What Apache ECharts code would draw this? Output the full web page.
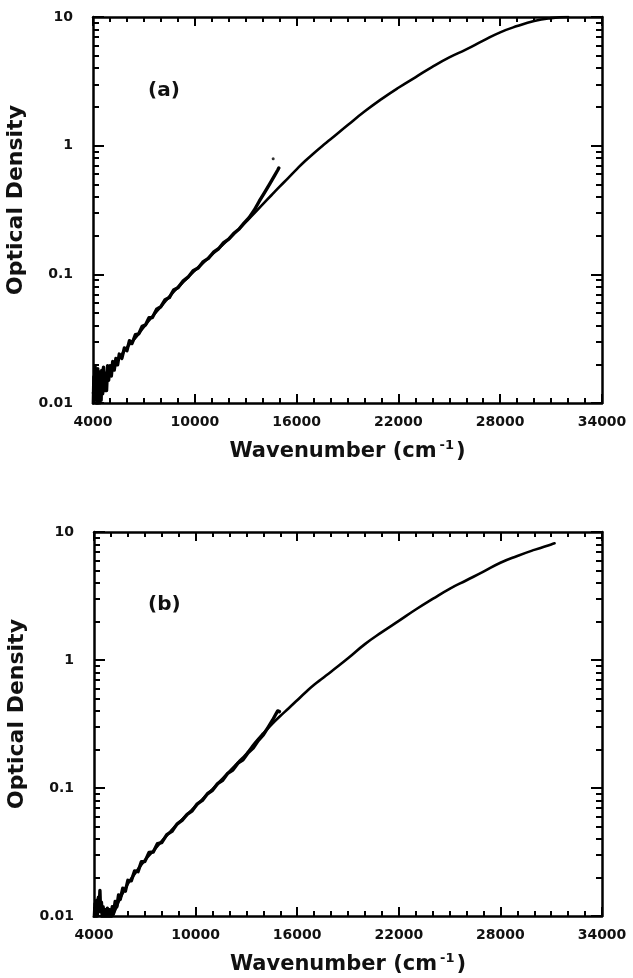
<!DOCTYPE html>
<html>
<head>
<meta charset="utf-8">
<script src="https://cdn.jsdelivr.net/npm/echarts@6/dist/echarts.min.js"></script>
<style>
html,body{margin:0;padding:0;background:#fff;}
#chart{width:633px;height:978px;}
</style>
</head>
<body>
<div id="chart"></div>
<script>
// ---------- data (wavenumber cm^-1, optical density) ----------
var panelLabels = ['(a)', '(b)'];
var xAxisName = 'Wavenumber (cm';
var yAxisName = 'Optical Density';
var xMajorTicks = [4000, 10000, 16000, 22000, 28000, 34000];
var xMinorTicks = [5000,6000,7000,8000,9000,11000,12000,13000,14000,15000,17000,18000,19000,20000,21000,23000,24000,25000,26000,27000,29000,30000,31000,32000,33000];
var yMajorTicks = [0.01, 0.1, 1, 10];
var yMinorTicks = [0.02,0.03,0.04,0.05,0.06,0.07,0.08,0.09,0.2,0.3,0.4,0.5,0.6,0.7,0.8,0.9,2,3,4,5,6,7,8,9];

// panel (a): smooth full-range curve
var aMain = [[4000,0.012],[4200,0.0135],[4500,0.0148],[4800,0.0168],[5000,0.0188],[5500,0.022],[6000,0.027],[6500,0.032],[7000,0.039],[7500,0.047],[8000,0.056],[8500,0.067],[9000,0.079],[9500,0.092],[10000,0.107],[10500,0.123],[11000,0.142],[11500,0.163],[12000,0.188],[12500,0.218],[13000,0.255],[13500,0.298],[14000,0.35],[14500,0.41],[15000,0.48],[15500,0.56],[16000,0.655],[16500,0.76],[17000,0.87],[17500,0.99],[18000,1.12],[19000,1.44],[20000,1.84],[21000,2.3],[22000,2.82],[23000,3.4],[24000,4.1],[25000,4.85],[26000,5.6],[27000,6.55],[28000,7.6],[29000,8.5],[30000,9.3],[31000,9.8],[32000,10.05]];
// panel (a): noisy near-IR curve
var aNir = [[4020,0.0100],[4050,0.0160],[4080,0.0105],[4120,0.0195],[4160,0.0110],[4200,0.0170],[4240,0.0098],[4280,0.0185],[4320,0.0115],[4360,0.0175],[4400,0.0100],[4440,0.0160],[4480,0.0105],[4520,0.0180],[4570,0.0118],[4620,0.0190],[4680,0.0125],[4740,0.0170],[4800,0.0125],[4860,0.0195],[4920,0.0150],[5000,0.0195],[5080,0.0162],[5160,0.0210],[5250,0.0180],[5350,0.0222],[5450,0.0198],[5550,0.0240],[5700,0.0222],[5850,0.0268],[6000,0.0255],[6150,0.0305],[6300,0.0290],[6500,0.0340],[6700,0.0345],[6900,0.0395],[7100,0.0405],[7300,0.0460],[7500,0.0462],[7750,0.0535],[8000,0.0560],[8250,0.0635],[8500,0.0660],[8750,0.0755],[9000,0.0785],[9300,0.0885],[9600,0.0950],[9900,0.1065],[10200,0.1120],[10500,0.1255],[10800,0.1330],[11100,0.1485],[11400,0.1580],[11700,0.1765],[12000,0.1880],[12300,0.2085],[12600,0.2240],[12900,0.2500],[13200,0.2760],[13500,0.3150],[13800,0.3700],[14100,0.4300],[14400,0.5000],[14700,0.5850],[14900,0.6500],[14950,0.6700]];
var aDot = [[14620, 0.79]];

// panel (b)
var bMain = [[5100,0.0100],[5300,0.0115],[5500,0.0133],[6000,0.0178],[6500,0.0222],[7000,0.0272],[7500,0.0322],[8000,0.0385],[8500,0.0455],[9000,0.0535],[9500,0.062],[10000,0.072],[10500,0.084],[11000,0.098],[11500,0.115],[12000,0.135],[12500,0.158],[13000,0.185],[13500,0.225],[14000,0.268],[14500,0.315],[15000,0.365],[15500,0.42],[16000,0.485],[16500,0.56],[17000,0.64],[17500,0.72],[18000,0.81],[19000,1.03],[20000,1.33],[21000,1.65],[22000,2.02],[23000,2.48],[24000,3.0],[25000,3.6],[26000,4.2],[27000,4.9],[28000,5.75],[29000,6.5],[30000,7.25],[31000,8.0],[31200,8.15]];
var bNir = [[4020,0.0098],[4060,0.0125],[4100,0.0097],[4150,0.0132],[4200,0.0100],[4260,0.0140],[4310,0.0120],[4350,0.0158],[4390,0.0108],[4440,0.0128],[4490,0.0096],[4540,0.0118],[4600,0.0095],[4660,0.0112],[4720,0.0096],[4790,0.0115],[4860,0.0097],[4930,0.0112],[5000,0.0098],[5080,0.0118],[5150,0.0104],[5250,0.0130],[5350,0.0118],[5450,0.0146],[5550,0.0135],[5700,0.0165],[5850,0.0156],[6000,0.0190],[6200,0.0188],[6400,0.0225],[6600,0.0222],[6800,0.0266],[7000,0.0266],[7250,0.0314],[7500,0.0316],[7750,0.0368],[8000,0.0374],[8300,0.0432],[8600,0.0458],[8900,0.0522],[9200,0.0558],[9500,0.0622],[9800,0.0663],[10100,0.0752],[10400,0.0800],[10700,0.0902],[11000,0.0960],[11300,0.1082],[11600,0.1150],[11900,0.1302],[12200,0.1380],[12500,0.1562],[12800,0.1660],[13100,0.1882],[13400,0.2050],[13700,0.2350],[14000,0.2600],[14300,0.3000],[14550,0.3400],[14750,0.3800],[14850,0.4000],[14950,0.3950]];

// ---------- layout ----------
var FONT = 'DejaVu Sans';
var grids = [
  {left: 93, top: 17, width: 509, height: 386},
  {left: 94, top: 532, width: 508, height: 384}
];
var xAxes = [], yAxes = [];
function tickAxisX(g, pos, custom, len, isMain) {
  return {
    type: 'value', gridIndex: g, position: pos, min: 4000, max: 34000,
    splitLine: {show: false},
    axisLine: {show: isMain, onZero: false, lineStyle: {color: '#000', width: 2.5}},
    axisTick: {show: true, inside: true, length: len, customValues: custom, lineStyle: {color: '#000', width: 2}},
    axisLabel: {show: false}
  };
}
function tickAxisY(g, pos, custom, len, isMain) {
  return {
    type: 'log', logBase: 10, gridIndex: g, position: pos, min: 0.01, max: 10,
    splitLine: {show: false}, minorTick: {show: false},
    axisLine: {show: isMain, onZero: false, lineStyle: {color: '#000', width: 2.5}},
    axisTick: {show: true, inside: true, length: len, customValues: custom, lineStyle: {color: '#000', width: 2}},
    axisLabel: {show: false}
  };
}
for (var g = 0; g < 2; g++) {
  var bx = tickAxisX(g, 'bottom', xMajorTicks, 9, true);
  bx.axisLabel = {show: true, customValues: xMajorTicks, margin: 12, fontFamily: FONT, fontWeight: 'bold', fontSize: 14, color: '#111',
    formatter: function (v) { return String(v); }};
  bx.name = xAxisName + '{sup|-1}{n|)}';
  bx.nameLocation = 'middle';
  bx.nameGap = 36;
  bx.nameTextStyle = {fontFamily: FONT, fontWeight: 'bold', fontSize: 21, color: '#111',
    rich: {sup: {fontFamily: FONT, fontWeight: 'bold', fontSize: 13, color: '#111', verticalAlign: 'top', padding: [0, 2, 12, 3]},
           n: {fontFamily: FONT, fontWeight: 'bold', fontSize: 21, color: '#111'}}};
  xAxes.push(bx);
  xAxes.push(tickAxisX(g, 'bottom', xMinorTicks, 5, false));
  xAxes.push(tickAxisX(g, 'top', xMajorTicks, 9, true));
  xAxes.push(tickAxisX(g, 'top', xMinorTicks, 5, false));

  var ly = tickAxisY(g, 'left', yMajorTicks, 11, true);
  ly.axisLabel = {show: true, customValues: yMajorTicks, margin: 20, fontFamily: FONT, fontWeight: 'bold', fontSize: 14, color: '#111',
    formatter: function (v) { return String(Number(Number(v).toPrecision(2))); }};
  ly.name = yAxisName;
  ly.nameLocation = 'middle';
  ly.nameGap = 60;
  ly.nameTextStyle = {fontFamily: FONT, fontWeight: 'bold', fontSize: 22, color: '#111', padding: [0, 0, 0, 20]};
  yAxes.push(ly);
  yAxes.push(tickAxisY(g, 'left', yMinorTicks, 6, false));
  yAxes.push(tickAxisY(g, 'right', yMajorTicks, 11, true));
  yAxes.push(tickAxisY(g, 'right', yMinorTicks, 6, false));
}

function lineSeries(g, data, width, smooth) {
  return {
    type: 'line', xAxisIndex: g * 4, yAxisIndex: g * 4, data: data,
    showSymbol: false, symbol: 'none', smooth: smooth, clip: true, animation: false,
    lineStyle: {color: '#000', width: width, join: 'round', cap: 'round'}
  };
}

var option = {
  backgroundColor: '#fff',
  animation: false,
  grid: grids.map(function (gr) { return Object.assign({show: false, containLabel: false, outerBoundsMode: 'none'}, gr); }),
  xAxis: xAxes,
  yAxis: yAxes,
  graphic: [
    {type: 'text', left: 148, top: 81, style: {text: panelLabels[0], font: 'bold 20px "DejaVu Sans"', fill: '#111'}},
    {type: 'text', left: 148, top: 595, style: {text: panelLabels[1], font: 'bold 20px "DejaVu Sans"', fill: '#111'}}
  ],
  series: [
    lineSeries(0, aMain, 2.6, 0.5),
    lineSeries(0, aNir, 3.4, false),
    {type: 'scatter', xAxisIndex: 0, yAxisIndex: 0, data: aDot, symbolSize: 3, itemStyle: {color: '#000'}, animation: false},
    lineSeries(1, bMain, 2.6, 0.5),
    lineSeries(1, bNir, 3.4, false)
  ]
};
var chart = echarts.init(document.getElementById('chart'), null, {renderer: 'canvas'});
chart.setOption(option);
</script>
</body>
</html>
